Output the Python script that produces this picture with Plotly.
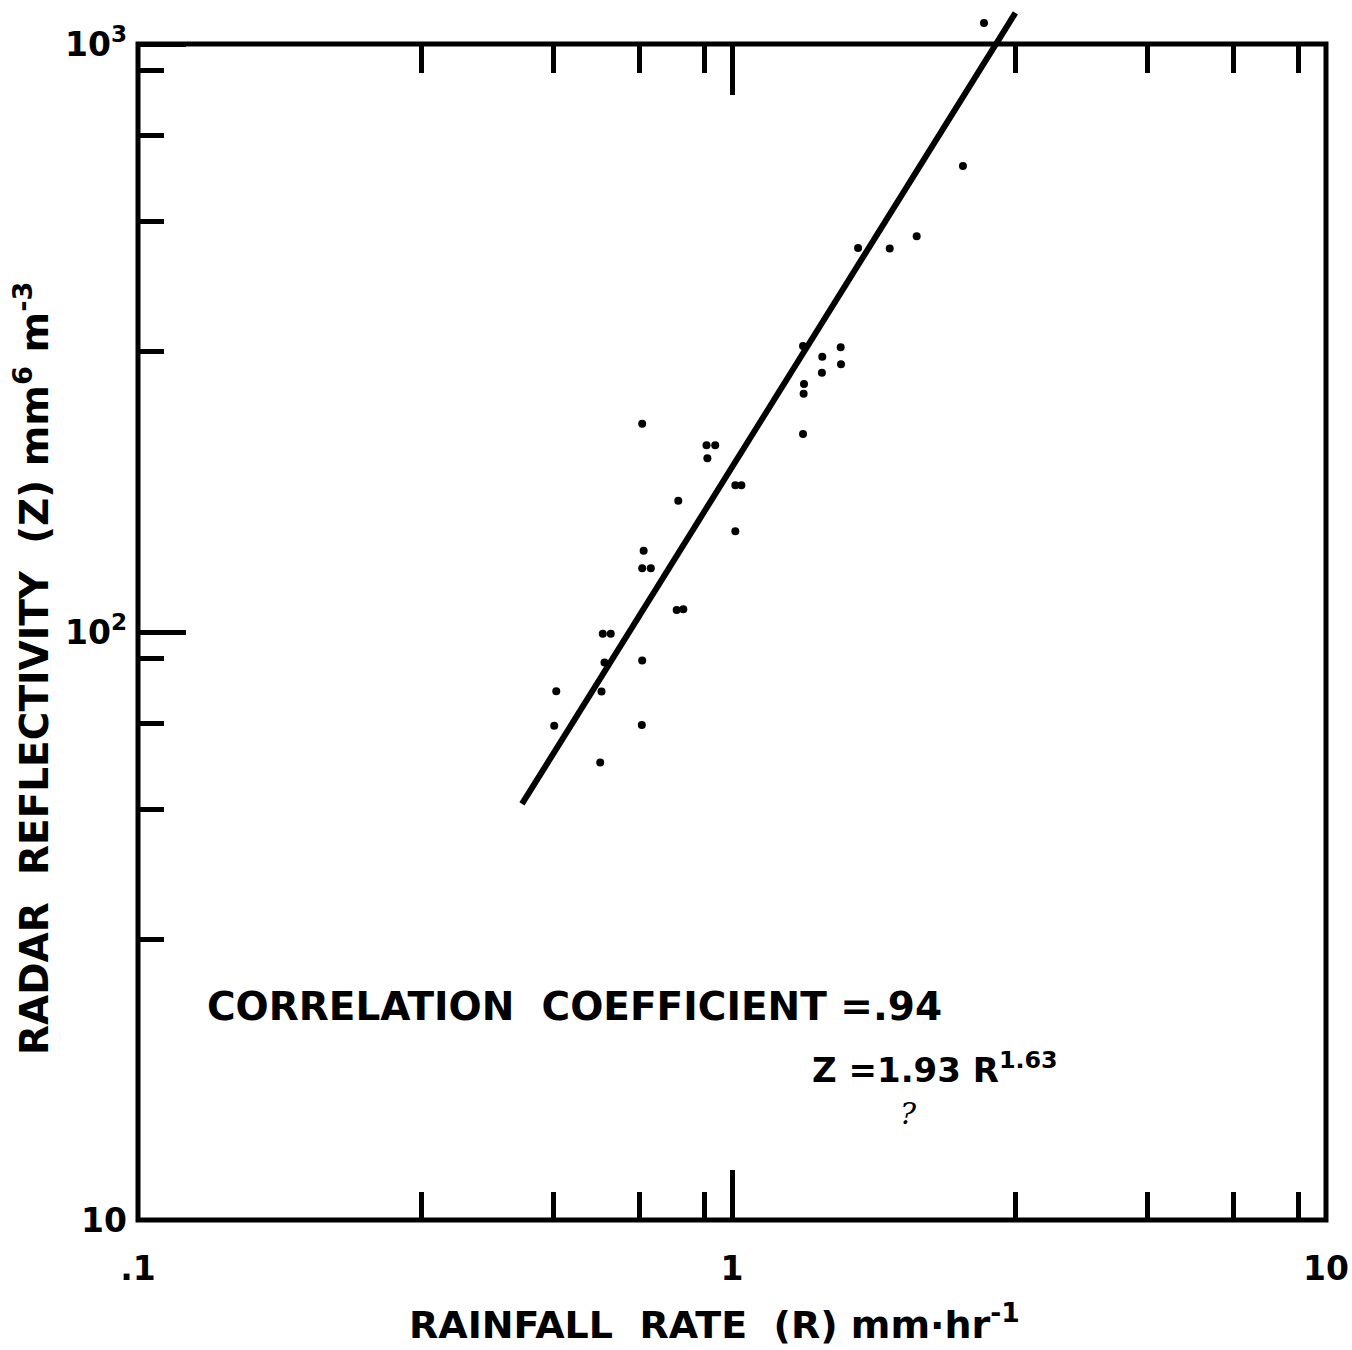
import plotly.graph_objects as go

# ---- data ----
rain_rate = [0.706, 0.906, 0.937, 0.909, 1.013, 1.037, 0.812, 1.013, 0.710, 0.706,
             0.730, 0.807, 0.828, 0.606, 0.625, 0.610, 0.706, 0.506, 0.603, 0.502,
             0.705, 0.600, 2.448, 1.630, 1.843, 2.046, 1.317, 1.524, 1.419, 1.526,
             1.417, 1.322, 1.320, 1.317, 2.656]
reflectivity = [226, 207.7, 207.7, 197.4, 177.7, 177.7, 167.2, 148.3, 137.5, 128.3,
                128.3, 109.0, 109.3, 99.3, 99.3, 88.7, 89.4, 79.3, 79.2, 69.3,
                69.5, 60.0, 620, 450, 449, 471, 306.5, 305, 293.9, 285.3,
                276.1, 264.2, 254.2, 217.1, 1086]

fit_rate = [0.443, 3.0]
fit_reflectivity = [51, 1130]

x_major_vals = [0.1, 1, 10]
x_major_text = [".1", "1", "10"]
x_minor_vals = [0.3, 0.5, 0.7, 0.9, 3, 5, 7, 9]
y_major_vals = [10, 100, 1000]
y_major_text = ["10", "10<sup>2</sup>", "10<sup>3</sup>"]
y_minor_vals = [30, 50, 70, 90, 300, 500, 700, 900]

x_title = "RAINFALL\u00a0 RATE\u00a0 (R)\u00a0mm\u00b7hr<sup>-1</sup>"
y_title = "RADAR\u00a0 REFLECTIVITY\u00a0 (Z)\u00a0mm<sup>6</sup>\u00a0m<sup>-3</sup>"
note_corr = "CORRELATION\u00a0 COEFFICIENT\u00a0=.94"
note_eq = "Z =1.93 R<sup>1.63</sup>"
note_hand = "?"

FONT = "DejaVu Sans"
W, H = 1352, 1350
L, R_, T, B = 138, 26, 0, 130
plot_h = H - T - B          # 1220
frame_top = 1176 / plot_h   # paper y of Z = 1000

fig = go.Figure()

fig.add_trace(go.Scatter(
    x=fit_rate, y=fit_reflectivity, mode="lines",
    line=dict(color="black", width=6), showlegend=False, hoverinfo="skip"))

fig.add_trace(go.Scatter(
    x=rain_rate, y=reflectivity, mode="markers",
    marker=dict(color="black", size=8), showlegend=False, cliponaxis=False))

# helper trace so the top tick axis is drawn
fig.add_trace(go.Scatter(
    x=[1], y=[100], xaxis="x2", mode="markers",
    marker=dict(opacity=0), showlegend=False, hoverinfo="skip"))

tick_font = dict(family=FONT, size=33, color="black", weight="bold")

common_x = dict(
    type="log", range=[-1, 1], showgrid=False, zeroline=False, showline=False,
    tickmode="array", tickvals=x_major_vals, ticks="inside", ticklen=50,
    tickwidth=5, tickcolor="black",
    minor=dict(tickmode="array", tickvals=x_minor_vals, ticks="inside",
               ticklen=28, tickwidth=5, tickcolor="black", showgrid=False),
)

fig.update_layout(
    width=W, height=H,
    margin=dict(l=L, r=R_, t=T, b=B),
    paper_bgcolor="white", plot_bgcolor="white",
    xaxis=dict(**common_x, ticktext=x_major_text, tickfont=tick_font,
               ticklabelstandoff=26),
    xaxis2=dict(**common_x, overlaying="x", anchor="free", position=frame_top,
                side="top", showticklabels=False),
    yaxis=dict(
        type="log", range=[1, 3 + 44 / 588], showgrid=False, zeroline=False,
        showline=False, tickmode="array", tickvals=y_major_vals,
        ticktext=y_major_text, ticks="inside", ticklen=48, tickwidth=5,
        tickcolor="black", tickfont=tick_font, ticklabelstandoff=10,
        minor=dict(tickmode="array", tickvals=y_minor_vals, ticks="inside",
                   ticklen=26, tickwidth=5, tickcolor="black", showgrid=False),
    ),
    shapes=[dict(type="rect", xref="paper", yref="paper", x0=0, x1=1,
                 y0=0, y1=frame_top, line=dict(color="black", width=5),
                 layer="above")],
    annotations=[
        dict(text=x_title, xref="paper", yref="paper",
             x=(714 - L) / 1188, y=(plot_h - 1322) / plot_h,
             xanchor="center", yanchor="middle", showarrow=False,
             font=dict(family=FONT, size=38, color="black", weight="bold")),
        dict(text=y_title, xref="paper", yref="paper",
             x=(32 - L) / 1188, y=(plot_h - 668) / plot_h, textangle=-90,
             xanchor="center", yanchor="middle", showarrow=False,
             font=dict(family=FONT, size=39, color="black", weight="bold")),
        dict(text=note_corr, xref="paper", yref="paper",
             x=(205 - L) / 1188, y=(plot_h - 1007) / plot_h,
             xanchor="left", yanchor="middle", showarrow=False,
             font=dict(family=FONT, size=39, color="black", weight="bold")),
        dict(text=note_eq, xref="paper", yref="paper",
             x=(810 - L) / 1188, y=(plot_h - 1068) / plot_h,
             xanchor="left", yanchor="middle", showarrow=False,
             font=dict(family=FONT, size=34, color="black", weight="bold")),
        dict(text=note_hand, xref="paper", yref="paper",
             x=(908 - L) / 1188, y=(plot_h - 1113) / plot_h,
             xanchor="center", yanchor="middle", showarrow=False,
             font=dict(family="DejaVu Serif", size=30, color="black",
                       style="italic")),
    ],
)

fig.write_html("out.html")
